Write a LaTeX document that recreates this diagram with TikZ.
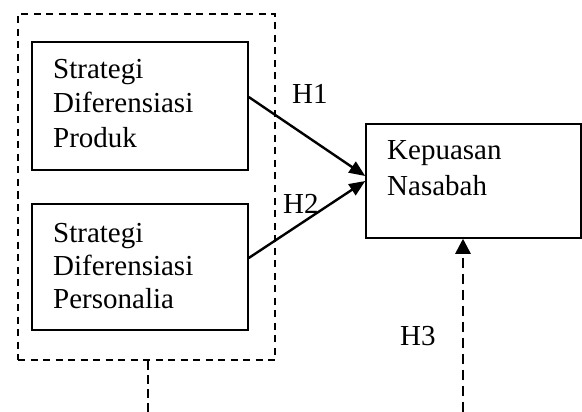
\documentclass[tikz,border=0pt]{standalone}
\usepackage{fontspec}
\setmainfont{Liberation Serif}
\usetikzlibrary{arrows.meta}
\begin{document}
\begin{tikzpicture}[x=1pt,y=-1pt,
  every node/.style={font=\fontsize{29}{34}\selectfont},
  frame/.style={draw,line width=1.5pt,inner sep=0pt,rectangle},
  group/.style={draw,line width=1.5pt,dash pattern=on 7pt off 5.5pt,inner sep=0pt,rectangle},
  txt/.style={anchor=base west,inner sep=0pt},
  hyp/.style={line width=2.4pt,-{Triangle[length=16pt,width=13pt]}},
  dline/.style={line width=2.2pt,dash pattern=on 9pt off 5pt},
  darrow/.style={line width=2.6pt,dash pattern=on 10pt off 6pt,-{Triangle[length=15pt,width=15pt]}}]
\useasboundingbox (0,0) rectangle (582,412);
% outer dashed group
\node[group,minimum width=257pt,minimum height=346pt] (grp) at (146.5,187) {};
% boxes
\node[frame,minimum width=216pt,minimum height=128pt] (b1) at (140,106) {};
\node[frame,minimum width=216pt,minimum height=126pt] (b2) at (140,267) {};
\node[frame,minimum width=215pt,minimum height=114pt] (k) at (473.5,181) {};
% texts
\node[txt] (t1a) at (53,79) {Strategi};
\node[txt] (t1b) at (53,113) {Diferensiasi};
\node[txt] (t1c) at (53,147) {Produk};
\node[txt] (t2a) at (53,242) {Strategi};
\node[txt] (t2b) at (53,275) {Diferensiasi};
\node[txt] (t2c) at (53,308) {Personalia};
\node[txt] (tka) at (387,160) {Kepuasan};
\node[txt] (tkb) at (387,195) {Nasabah};
\node[txt] (h1) at (292,103) {H1};
\node[txt] (h2) at (283,213) {H2};
\node[txt] (h3) at (400,345) {H3};
% connectors
\draw[hyp] ([yshift=9pt]b1.east) -- ([yshift=5pt]k.west);
\draw[hyp] ([yshift=9pt]b2.east) -- (k.west);
\coordinate (e1) at (148,412);
\coordinate (e2) at (463,412);
\draw[dline] (grp.south -| e1) -- (e1);
\draw[darrow] (e2) -- (k.south -| e2);
\end{tikzpicture}
\end{document}
